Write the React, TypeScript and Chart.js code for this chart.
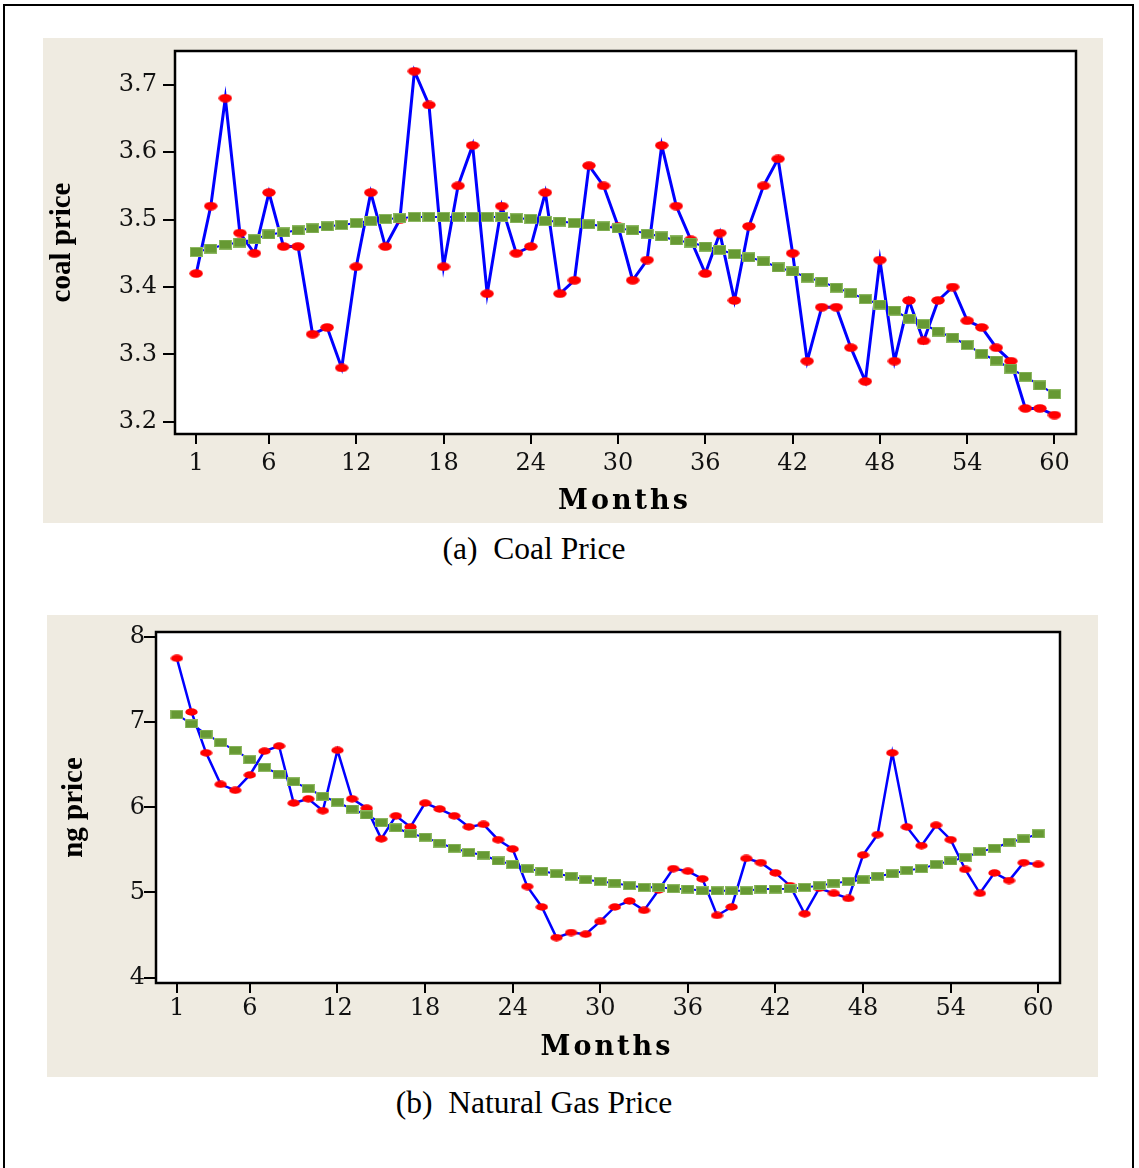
import { useEffect, useRef } from 'react';
import { Chart, registerables } from 'chart.js';

Chart.register(...registerables);

// ---------- data ----------
const months: number[] = Array.from({ length: 60 }, (_, i) => i + 1);
const monthTicks = [1, 6, 12, 18, 24, 30, 36, 42, 48, 54, 60];

const coalTicks = [3.2, 3.3, 3.4, 3.5, 3.6, 3.7];
const coalPrice = [
  3.42, 3.52, 3.68, 3.48, 3.45, 3.54, 3.46, 3.46, 3.33, 3.34,
  3.28, 3.43, 3.54, 3.46, 3.50, 3.72, 3.67, 3.43, 3.55, 3.61,
  3.39, 3.52, 3.45, 3.46, 3.54, 3.39, 3.41, 3.58, 3.55, 3.49,
  3.41, 3.44, 3.61, 3.52, 3.47, 3.42, 3.48, 3.38, 3.49, 3.55,
  3.59, 3.45, 3.29, 3.37, 3.37, 3.31, 3.26, 3.44, 3.29, 3.38,
  3.32, 3.38, 3.40, 3.35, 3.34, 3.31, 3.29, 3.22, 3.22, 3.21,
];
const coalTrend = [
  3.452, 3.457, 3.463, 3.466, 3.471, 3.478, 3.481, 3.484, 3.487, 3.490,
  3.492, 3.495, 3.498, 3.501, 3.502, 3.504, 3.504, 3.504, 3.504, 3.504,
  3.504, 3.504, 3.502, 3.501, 3.498, 3.497, 3.495, 3.493, 3.490, 3.487,
  3.484, 3.479, 3.475, 3.469, 3.466, 3.460, 3.455, 3.449, 3.444, 3.438,
  3.429, 3.423, 3.414, 3.408, 3.399, 3.391, 3.382, 3.374, 3.365, 3.353,
  3.345, 3.334, 3.325, 3.314, 3.301, 3.291, 3.279, 3.267, 3.254, 3.241,
];

const gasTicks = [4, 5, 6, 7, 8];
const gasPrice = [
  7.75, 7.12, 6.64, 6.27, 6.20, 6.38, 6.66, 6.72, 6.05, 6.10,
  5.96, 6.67, 6.10, 5.99, 5.63, 5.90, 5.77, 6.05, 5.98, 5.90,
  5.77, 5.80, 5.62, 5.51, 5.07, 4.83, 4.47, 4.53, 4.51, 4.66,
  4.83, 4.90, 4.79, 5.03, 5.28, 5.25, 5.16, 4.73, 4.83, 5.40,
  5.35, 5.23, 5.08, 4.75, 5.05, 4.99, 4.93, 5.44, 5.68, 6.64,
  5.77, 5.55, 5.79, 5.62, 5.27, 4.99, 5.23, 5.14, 5.35, 5.33,
];
const gasTrend = [
  7.09, 6.98, 6.86, 6.76, 6.67, 6.56, 6.47, 6.39, 6.30, 6.22,
  6.13, 6.06, 5.98, 5.91, 5.82, 5.76, 5.69, 5.65, 5.58, 5.52,
  5.47, 5.44, 5.37, 5.33, 5.28, 5.25, 5.22, 5.19, 5.15, 5.13,
  5.11, 5.08, 5.06, 5.06, 5.045, 5.04, 5.02, 5.02, 5.02, 5.02,
  5.04, 5.04, 5.045, 5.06, 5.08, 5.11, 5.13, 5.15, 5.19, 5.22,
  5.26, 5.28, 5.33, 5.37, 5.41, 5.48, 5.52, 5.59, 5.63, 5.69,
];

// ---------- styling ----------
const BEIGE = '#efebe1';
const BLUE = '#0000ff';
const RED = '#ff0000';
const GREEN = '#669933';

function ellipseMarker(w: number, h: number, color: string) {
  const c = document.createElement('canvas');
  c.width = w;
  c.height = h;
  const g = c.getContext('2d')!;
  g.fillStyle = color;
  g.beginPath();
  g.ellipse(w / 2, h / 2, w / 2 - 0.3, h / 2 - 0.3, 0, 0, Math.PI * 2);
  g.fill();
  return c;
}

function rectMarker(w: number, h: number, fill: string, edge: string) {
  const c = document.createElement('canvas');
  c.width = w;
  c.height = h;
  const g = c.getContext('2d')!;
  g.fillStyle = edge;
  g.fillRect(0, 0, w, h);
  g.fillStyle = fill;
  g.fillRect(1, 1, w - 2, h - 2);
  return c;
}

const framePlugin = {
  id: 'frame',
  beforeDraw(chart: any) {
    const { ctx, chartArea: a } = chart;
    ctx.save();
    ctx.fillStyle = '#ffffff';
    ctx.fillRect(a.left, a.top, a.right - a.left, a.bottom - a.top);
    ctx.restore();
  },
  afterDraw(chart: any, _args: any, opts: any) {
    const { ctx, chartArea: a } = chart;
    ctx.save();
    ctx.strokeStyle = '#000';
    ctx.lineWidth = 2.5;
    ctx.strokeRect(a.left, a.top, a.right - a.left, a.bottom - a.top);
    ctx.restore();
    if (opts && opts.text) {
      ctx.save();
      ctx.font = opts.font;
      (ctx as any).letterSpacing = opts.spacing;
      ctx.fillStyle = '#000';
      ctx.textAlign = 'center';
      ctx.textBaseline = 'middle';
      ctx.fillText(opts.text, (a.left + a.right) / 2 + opts.dx, opts.y);
      ctx.restore();
    }
  },
};

interface PanelSpec {
  prices: number[];
  trend: number[];
  yMin: number;
  yMax: number;
  yTicks: number[];
  decimals: number;
  yTitle: string;
  yTitlePad: number;
  yLabelPad: number;
  xLabelPad: number;
  yWidth: number;
  xHeight: number;
  padTop: number;
  padRight: number;
  xMin: number;
  xMax: number;
  lineWidth: number;
  titleY: number;
  titleDx: number;
  dot: [number, number];
  square: [number, number];
}

function makeConfig(p: PanelSpec): any {
  const tickFont = { family: "'DejaVu Serif'", size: 24 };
  return {
    type: 'line',
    data: {
      datasets: [
        {
          label: 'trend',
          data: months.map((m, i) => ({ x: m, y: p.trend[i] })),
          borderColor: BLUE,
          borderWidth: 2,
          pointStyle: rectMarker(p.square[0], p.square[1], GREEN, '#8db862'),
          pointRadius: 6,
          order: 0,
        },
        {
          label: 'price',
          data: months.map((m, i) => ({ x: m, y: p.prices[i] })),
          borderColor: BLUE,
          borderWidth: p.lineWidth,
          pointStyle: ellipseMarker(p.dot[0], p.dot[1], RED),
          pointRadius: 6,
          order: 1,
        },
      ],
    },
    options: {
      responsive: false,
      animation: false,
      events: [],
      layout: { padding: { top: p.padTop, right: p.padRight, left: 0, bottom: 0 } },
      plugins: {
        legend: { display: false },
        tooltip: { enabled: false },
        frame: { text: 'Months', y: p.titleY, dx: p.titleDx, font: "bold 27px 'DejaVu Serif'", spacing: '3px' },
      },
      scales: {
        x: {
          type: 'linear',
          min: p.xMin,
          max: p.xMax,
          afterBuildTicks: (s: any) => {
            s.ticks = monthTicks.map((v) => ({ value: v }));
          },
          afterFit: (s: any) => {
            s.height = p.xHeight;
            s.paddingLeft = 0;
            s.paddingRight = 0;
          },
          border: { display: false },
          grid: { drawOnChartArea: false, drawTicks: true, tickLength: 10, color: '#000', lineWidth: 2 },
          ticks: {
            autoSkip: false,
            maxRotation: 0,
            padding: p.xLabelPad,
            color: '#111',
            font: tickFont,
            callback: (v: any) => String(v),
          },
        },
        y: {
          type: 'linear',
          min: p.yMin,
          max: p.yMax,
          afterBuildTicks: (s: any) => {
            s.ticks = p.yTicks.map((v) => ({ value: v }));
          },
          afterFit: (s: any) => {
            s.width = p.yWidth;
            s.paddingTop = 0;
            s.paddingBottom = 0;
          },
          border: { display: false },
          grid: { drawOnChartArea: false, drawTicks: true, tickLength: 12, color: '#000', lineWidth: 2 },
          ticks: {
            padding: p.yLabelPad,
            color: '#111',
            font: tickFont,
            callback: (v: any) => Number(v).toFixed(p.decimals),
          },
          title: {
            display: true,
            text: p.yTitle,
            color: '#000',
            font: { family: "'Liberation Serif'", size: 29, weight: 'bold' },
            padding: { top: p.yTitlePad, bottom: 0 },
          },
        },
      },
    },
    plugins: [framePlugin],
  };
}

const coalSpec: PanelSpec = {
  prices: coalPrice,
  trend: coalTrend,
  yMin: 3.182,
  yMax: 3.75,
  yTicks: coalTicks,
  decimals: 1,
  yTitle: 'coal price',
  yTitlePad: 2,
  yLabelPad: 6,
  xLabelPad: 5,
  yWidth: 132,
  xHeight: 89,
  padTop: 13,
  padRight: 27,
  xMin: -0.46,
  xMax: 61.48,
  lineWidth: 3,
  titleY: 464,
  titleDx: -1,
  dot: [14, 9],
  square: [13, 10],
};

const gasSpec: PanelSpec = {
  prices: gasPrice,
  trend: gasTrend,
  yMin: 3.937,
  yMax: 8.059,
  yTicks: gasTicks,
  decimals: 0,
  yTitle: 'ng price',
  yTitlePad: 10,
  yLabelPad: -1,
  xLabelPad: 1,
  yWidth: 109,
  xHeight: 94,
  padTop: 17,
  padRight: 38,
  xMin: -0.43,
  xMax: 61.49,
  lineWidth: 2.5,
  titleY: 433,
  titleDx: -1,
  dot: [13, 8],
  square: [13, 9],
};

function Panel({ spec, left, top, width, height }: { spec: PanelSpec; left: number; top: number; width: number; height: number }) {
  const ref = useRef<HTMLCanvasElement | null>(null);
  useEffect(() => {
    if (!ref.current) return;
    const chart = new Chart(ref.current, makeConfig(spec));
    return () => chart.destroy();
  }, [spec]);
  return (
    <div style={{ position: 'absolute', left, top, width, height, background: BEIGE }}>
      <canvas ref={ref} width={width} height={height} style={{ display: 'block', width, height }} />
    </div>
  );
}

const captionStyle = (top: number): any => ({
  position: 'absolute',
  left: 0,
  width: 1068,
  top,
  height: 40,
  lineHeight: '40px',
  textAlign: 'center',
  fontFamily: "'Liberation Serif', serif",
  fontSize: 31.5,
  color: '#000',
  whiteSpace: 'pre',
});

export default function App() {
  return (
    <div style={{ position: 'absolute', left: 0, top: 0, width: 1139, height: 1168, background: '#fff', overflow: 'hidden' }}>
      <div
        style={{
          position: 'absolute',
          left: 3,
          top: 4,
          width: 1131,
          height: 1166,
          borderLeft: '2px solid #000',
          borderRight: '2px solid #000',
          borderTop: '2px solid #000',
          boxSizing: 'border-box',
        }}
      />
      <Panel spec={coalSpec} left={43} top={38} width={1060} height={485} />
      <div style={captionStyle(529)}>{'(a)  Coal Price'}</div>
      <Panel spec={gasSpec} left={47} top={615} width={1051} height={462} />
      <div style={captionStyle(1083)}>{'(b)  Natural Gas Price'}</div>
    </div>
  );
}
